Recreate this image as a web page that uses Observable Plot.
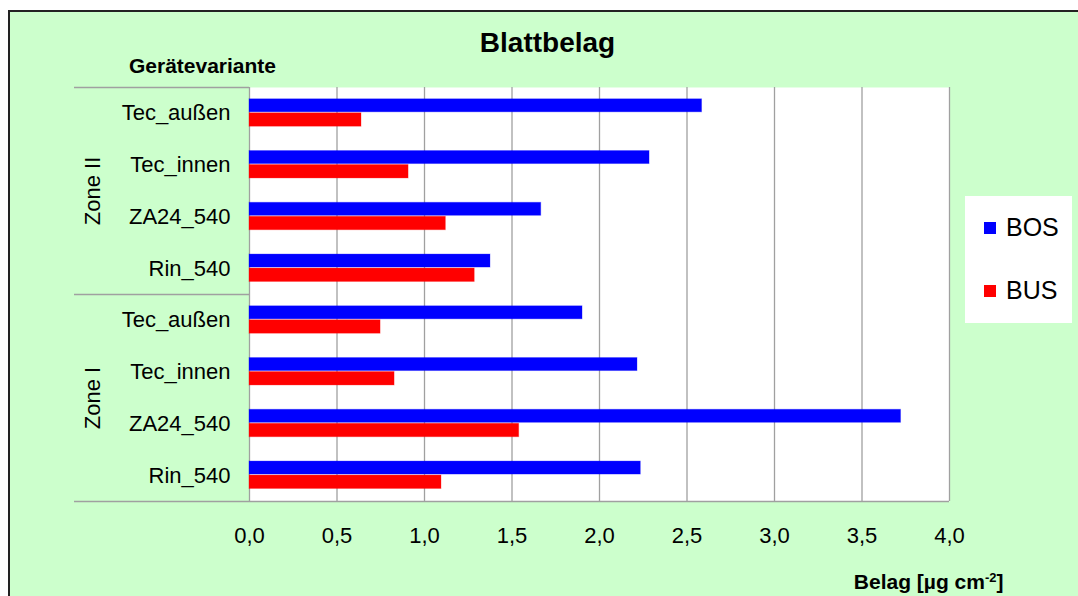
<!DOCTYPE html>
<html>
<head>
<meta charset="utf-8">
<script src="https://cdn.jsdelivr.net/npm/d3@7"></script>
<script src="https://cdn.jsdelivr.net/npm/@observablehq/plot@0.6"></script>
<style>
  html, body { margin: 0; padding: 0; background: #ffffff; }
  #wrap { position: relative; width: 1078px; height: 596px; overflow: hidden; font-family: "Liberation Sans", Arial, sans-serif; }
  #bg { position: absolute; left: 8px; top: 10px; width: 1080px; height: 600px; background: #CCFFCC; border-top: 2px solid #222; border-left: 2px solid #222; }
  #chart { position: absolute; left: 0; top: 0; }
  #legend { position: absolute; left: 965px; top: 196px; width: 107px; height: 127px; background: #ffffff; }
  .item { position: absolute; left: 19px; display: flex; align-items: center; font-size: 25px; color: #000; }
  .sw { width: 12px; height: 12px; margin-right: 10px; }
</style>
</head>
<body>
<div id="wrap"><div id="bg"></div><div id="chart"></div><div id="legend"></div></div>
<script>
// ---- data ----
const zones = ["Zone II", "Zone I"];
const variants = ["Tec_außen", "Tec_innen", "ZA24_540", "Rin_540"];
const series = ["BOS", "BUS"];
const seriesColors = ["#0000FF", "#FF0000"];
// values in order: Zone II (4 variants), then Zone I (4 variants)
const bosValues = [2.586, 2.286, 1.667, 1.377, 1.903, 2.217, 3.723, 2.236];
const busValues = [0.640, 0.909, 1.122, 1.287, 0.749, 0.829, 1.541, 1.097];
const xTicks = [0, 0.5, 1, 1.5, 2, 2.5, 3, 3.5, 4];
const titleText = "Blattbelag";
const yTitle = "Gerätevariante";
const xTitleMain = "Belag [µg cm";
const xTitleSup = "-2";
const xTitleEnd = "]";

// ---- layout ----
const W = 1078, H = 596;
const mL = 249, mR = 129, mT = 87, mB = 95;
const keys = zones.flatMap(z => variants.map(v => z + "|" + v));
const bw = (H - mT - mB) / keys.length;
const rows = keys.map((k, i) => ({key: k, zone: k.split("|")[0], variant: k.split("|")[1], BOS: bosValues[i], BUS: busValues[i]}));
const gray = "#a0a0a0";
const sepStart = -1; // separator lines reach one unit left of the axis

const plot = Plot.plot({
  width: W, height: H,
  marginLeft: mL, marginRight: mR, marginTop: mT, marginBottom: mB,
  style: {background: "transparent", fontFamily: "'Liberation Sans', Arial, sans-serif", fontSize: "22px", color: "#000", overflow: "visible"},
  x: {domain: [0, 4], axis: null},
  y: {domain: keys, axis: null, padding: 0, round: false},
  marks: [
    Plot.frame({fill: "white", stroke: null}),
    Plot.gridX(xTicks, {stroke: gray, strokeOpacity: 1, strokeWidth: 1.3}),
    Plot.barX(rows, {x: "BOS", y: "key", fill: seriesColors[0], stroke: seriesColors[0], strokeOpacity: 0.3, strokeWidth: 1, insetTop: 11.8, insetBottom: bw - 24.8}),
    Plot.barX(rows, {x: "BUS", y: "key", fill: seriesColors[1], stroke: seriesColors[1], strokeOpacity: 0.3, strokeWidth: 1, insetTop: 25.8, insetBottom: bw - 39.2}),
    Plot.axisX(xTicks, {tickSize: 0, tickPadding: 26, fontSize: 22, tickFormat: d => d.toFixed(1).replace(".", ","), label: null}),
    Plot.axisY(keys, {tickSize: 0, tickPadding: 19, fontSize: 22, tickFormat: k => k.split("|")[1], label: null}),
    // group separators
    Plot.ruleY(zones.map(z => z + "|" + variants[0]), {y: d => d, dy: -bw / 2, x1: sepStart, x2: 0, stroke: gray, strokeWidth: 1.3, clip: false}),
    Plot.ruleY([keys[keys.length - 1]], {y: d => d, dy: bw / 2, x1: sepStart, x2: 4, stroke: gray, strokeWidth: 1.3, clip: false}),
    // zone labels
    Plot.text(zones, {y: z => z + "|" + variants[1], dy: bw / 2, frameAnchor: "left", dx: -157, rotate: -90, textAnchor: "middle", lineAnchor: "middle", fontSize: 22, fill: "#000"}),
    // titles
    Plot.text([titleText], {frameAnchor: "top-left", dx: 547 - mL, dy: 51 - mT, textAnchor: "middle", lineAnchor: "bottom", fontSize: 28, fontWeight: "bold", fill: "#000"}),
    Plot.text([yTitle], {frameAnchor: "top-left", dx: 202 - mL, dy: 72 - mT, textAnchor: "middle", lineAnchor: "bottom", fontSize: 21, fontWeight: "bold", fill: "#000"}),
    Plot.text([xTitleMain], {frameAnchor: "bottom-right", dx: 1003 - (W - mR), dy: 588 - (H - mB), textAnchor: "end", lineAnchor: "bottom", fontSize: 21, fontWeight: "bold", fill: "#000", className: "xtitle"})
  ]
});
document.getElementById("chart").appendChild(plot);

// add superscript to the x title
const xt = d3.select(plot).select(".xtitle text");
if (!xt.empty()) {
  xt.text(null);
  xt.append("tspan").text(xTitleMain);
  xt.append("tspan").attr("font-size", 13).attr("baseline-shift", "55%").text(xTitleSup);
  xt.append("tspan").text(xTitleEnd);
}

// legend
const legend = document.getElementById("legend");
series.forEach((s, i) => {
  const it = document.createElement("div");
  it.className = "item";
  it.style.top = (17 + i * 63) + "px";
  const sw = document.createElement("span");
  sw.className = "sw";
  sw.style.background = seriesColors[i];
  const tx = document.createElement("span");
  tx.textContent = s;
  it.appendChild(sw); it.appendChild(tx);
  legend.appendChild(it);
});
</script>
</body>
</html>
